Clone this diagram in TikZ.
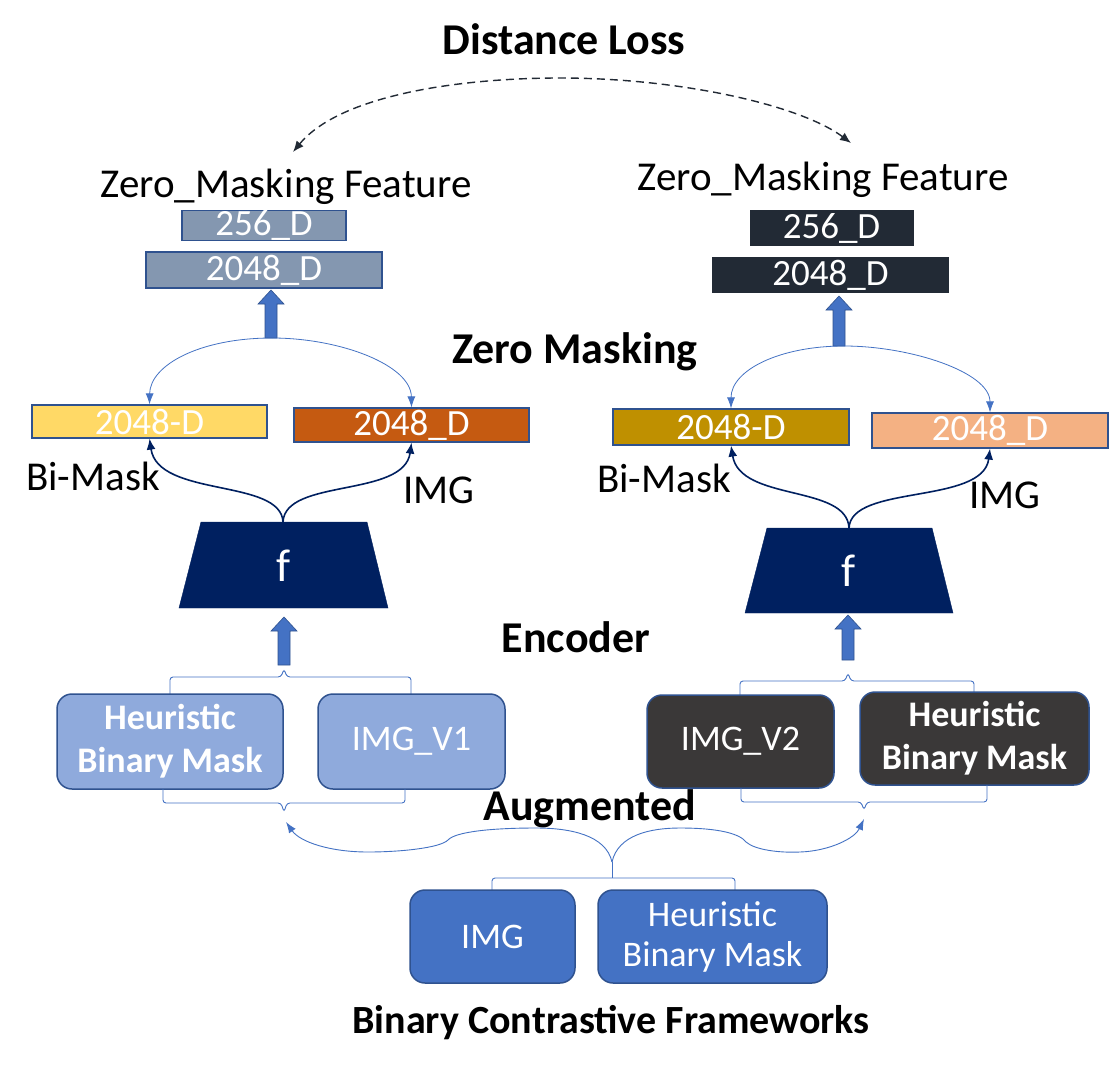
\documentclass[tikz,border=0pt]{standalone}
\usepackage{fontspec}
\setmainfont{Carlito}
\usetikzlibrary{arrows.meta}
\definecolor{bordc}{HTML}{2F528F}
\definecolor{lineblue}{HTML}{4472C4}
\definecolor{slate}{HTML}{8497B0}
\definecolor{darkslate}{HTML}{222A35}
\definecolor{ylw}{HTML}{FFD966}
\definecolor{orng}{HTML}{C55A11}
\definecolor{gold}{HTML}{BF9000}
\definecolor{salmon}{HTML}{F4B183}
\definecolor{navy}{HTML}{002060}
\definecolor{lightblue}{HTML}{8FAADC}
\definecolor{darkgrey}{HTML}{3A3838}
\definecolor{midblue}{HTML}{4472C4}
\newcommand{\blkarrow}[3]{\draw[blkarr] (#1-6,#2) -- (#1-6,#3+14) -- (#1-13,#3+14) -- (#1,#3) -- (#1+13,#3+14) -- (#1+6,#3+14) -- (#1+6,#2) -- cycle;}
\tikzset{
  fbox/.style={draw=bordc, line width=1.2pt, inner sep=0pt, text=white, font=\fontsize{37}{40}\selectfont},
  rbox/.style={rounded corners=15pt, draw=bordc, line width=1.5pt, inner sep=0pt, text=white, align=center},
  thinarr/.style={draw=lineblue, line width=0.8pt, -{Latex[length=11pt,width=8pt]}},
  navyarr/.style={draw=navy, line width=1.6pt, -{Latex[length=11pt,width=9pt]}},
  brk/.style={draw=lineblue, line width=0.9pt, rounded corners=3pt},
  blkarr/.style={fill=midblue, draw=bordc, line width=0.6pt},
  trap/.style={fill=navy, draw=navy},
  title/.style={font=\bfseries\fontsize{44}{50}\selectfont, anchor=base},
  lbl/.style={font=\fontsize{41}{48}\selectfont, anchor=base}
}
\begin{document}
\begin{tikzpicture}[x=1pt,y=-1pt]
\useasboundingbox[fill=white] (0,0) rectangle (1110,1070);

% titles
\node[title, font=\bfseries\fontsize{44}{50}\selectfont] (tdist) at (564,55) {Distance Loss};
\node[lbl] (zmfL) at (286,197) {Zero\_Masking Feature};
\node[lbl] (zmfR) at (823,190) {Zero\_Masking Feature};
\node[title] (tzm) at (575,363) {Zero Masking};
\node[title] (tenc) at (576,652) {Encoder};
\node[title] (taug) at (590,820) {Augmented};
\node[title, font=\bfseries\fontsize{40}{46}\selectfont] (tbcf) at (611,1033) {Binary Contrastive Frameworks};

% distance loss arc
\coordinate (dl) at (293,152);
\coordinate (dr) at (851,143);
\draw[darkslate, line width=1.4pt, dash pattern=on 8pt off 5pt, {Latex[length=11pt,width=9pt]}-{Latex[length=11pt,width=9pt]}]
  (dl) .. controls (340,95) and (460,78) .. (560,78) .. controls (680,78) and (800,105) .. (dr);

% feature boxes
\node[fbox, fill=slate, minimum width=164pt, minimum height=27pt] (l256) at (264,225.5) {256\_D};
\node[fbox, fill=slate, minimum width=236pt, minimum height=36pt] (l2048) at (264,270) {2048\_D};
\node[fbox, draw=none, fill=darkslate, minimum width=164pt, minimum height=36pt] (r256) at (831.5,228) {256\_D};
\node[fbox, draw=none, fill=darkslate, minimum width=237pt, minimum height=36pt] (r2048) at (830.5,275) {2048\_D};

% block arrows top
\blkarrow{271}{338}{290}
\blkarrow{839}{346}{296}

% 2048 boxes
\node[fbox, fill=ylw, minimum width=235pt, minimum height=33pt] (ylwb) at (149.5,421.5) {2048-D};
\node[fbox, fill=orng, minimum width=235pt, minimum height=34pt] (orgb) at (411.5,425) {2048\_D};
\node[fbox, fill=gold, minimum width=236pt, minimum height=36pt] (goldb) at (731,427) {2048-D};
\node[fbox, fill=salmon, minimum width=236pt, minimum height=35pt] (salb) at (990,430.5) {2048\_D};

% thin curves
\coordinate (zl) at (272,338);
\coordinate (zr) at (844,346);
\draw[thinarr] (zl) .. controls (200,338) and (150,365) .. (ylwb.north);
\draw[thinarr] (zl) .. controls (340,338) and (411,365) .. (orgb.north);
\draw[thinarr] (zr) .. controls (780,346) and (731,370) .. (goldb.north);
\draw[thinarr] (zr) .. controls (910,346) and (990,372) .. (salb.north);

% labels
\node[lbl] (bmL) at (93,490) {Bi-Mask};
\node[lbl] (imL) at (439,503) {IMG};
\node[lbl] (bmR) at (664,492) {Bi-Mask};
\node[lbl] (imR) at (1005,508) {IMG};

% encoders
\draw[trap] (201,522) -- (367,522) -- (388,608) -- (179,608) -- cycle;
\draw[trap] (767,528) -- (932,528) -- (953,613) -- (745,613) -- cycle;
\node[text=white, font=\fontsize{46}{50}\selectfont] (fL) at (284,566) {f};
\node[text=white, font=\fontsize{46}{50}\selectfont] (fR) at (849,571) {f};
\coordinate (tl) at (283,522);
\coordinate (tr) at (849,528);

\draw[navyarr] (tl) .. controls (281,478) and (158,498) .. (ylwb.south);
\draw[navyarr] (tl) .. controls (285,478) and (404,498) .. (orgb.south);
\draw[navyarr] (tr) .. controls (847,484) and (740,502) .. (goldb.south);
\draw[navyarr] (tr) .. controls (851,484) and (983,505) .. (salb.south);

% block arrows lower
\blkarrow{284}{665}{617}
\blkarrow{848}{660}{615}

% brackets top
\draw[brk] (170,694) -- (170,677) -- (281,677) -- (284,669) -- (287,677) -- (411,677) -- (411,694);
\draw[brk] (740,695) -- (740,681) -- (845,681) -- (848,673) -- (851,681) -- (974,681) -- (974,692);

% input boxes
\node[rbox, fill=lightblue, minimum width=226pt, minimum height=95pt, font=\bfseries\fontsize{36}{43}\selectfont] (hbmL) at (170,741.5) {Heuristic\\Binary Mask};
\node[rbox, fill=lightblue, minimum width=187pt, minimum height=95pt, font=\fontsize{36}{43}\selectfont] (imgv1) at (411.5,741.5) {IMG\_V1};
\node[rbox, fill=darkgrey, minimum width=187pt, minimum height=93pt, font=\fontsize{36}{43}\selectfont] (imgv2) at (740.5,741.5) {IMG\_V2};
\node[rbox, fill=darkgrey, minimum width=229pt, minimum height=93pt, font=\bfseries\fontsize{36}{43}\selectfont] (hbmR) at (974.5,738.5) {Heuristic\\Binary Mask};

% brackets bottom
\draw[brk] (163,789) -- (163,803) -- (281,803) -- (284,812) -- (287,803) -- (405,803) -- (405,789);
\draw[brk] (741,788) -- (741,802) -- (861,802) -- (864,810) -- (867,802) -- (987,802) -- (987,785);

% big brace
\coordinate (bl) at (286,822);
\coordinate (br) at (864,819);
\coordinate (bc) at (612,862);
\draw[draw=lineblue, line width=0.9pt, -{Latex[length=11pt,width=8pt]}]
  (bc) .. controls (606,835) and (570,828) .. (536,828) .. controls (490,828) and (455,832) .. (448,840)
  .. controls (440,848) and (400,852) .. (368,852) .. controls (330,852) and (300,842) .. (bl);
\draw[draw=lineblue, line width=0.9pt, -{Latex[length=11pt,width=8pt]}]
  (bc) .. controls (618,835) and (650,828) .. (680,828) .. controls (720,828) and (740,834) .. (746,842)
  .. controls (755,850) and (780,853) .. (800,852) .. controls (830,851) and (855,838) .. (br);
\draw[brk] (492,890) -- (492,878) -- (735,878) -- (735,890);
\draw[draw=lineblue, line width=0.9pt] (bc) -- (612,878);

% source boxes
\node[rbox, fill=midblue, minimum width=165pt, minimum height=93pt, font=\fontsize{36}{43}\selectfont] (img) at (492.5,936.5) {IMG};
\node[rbox, fill=midblue, minimum width=229pt, minimum height=93pt, font=\fontsize{36}{40}\selectfont] (hbm) at (712.5,936.5) {Heuristic\\Binary Mask};
\end{tikzpicture}
\end{document}
